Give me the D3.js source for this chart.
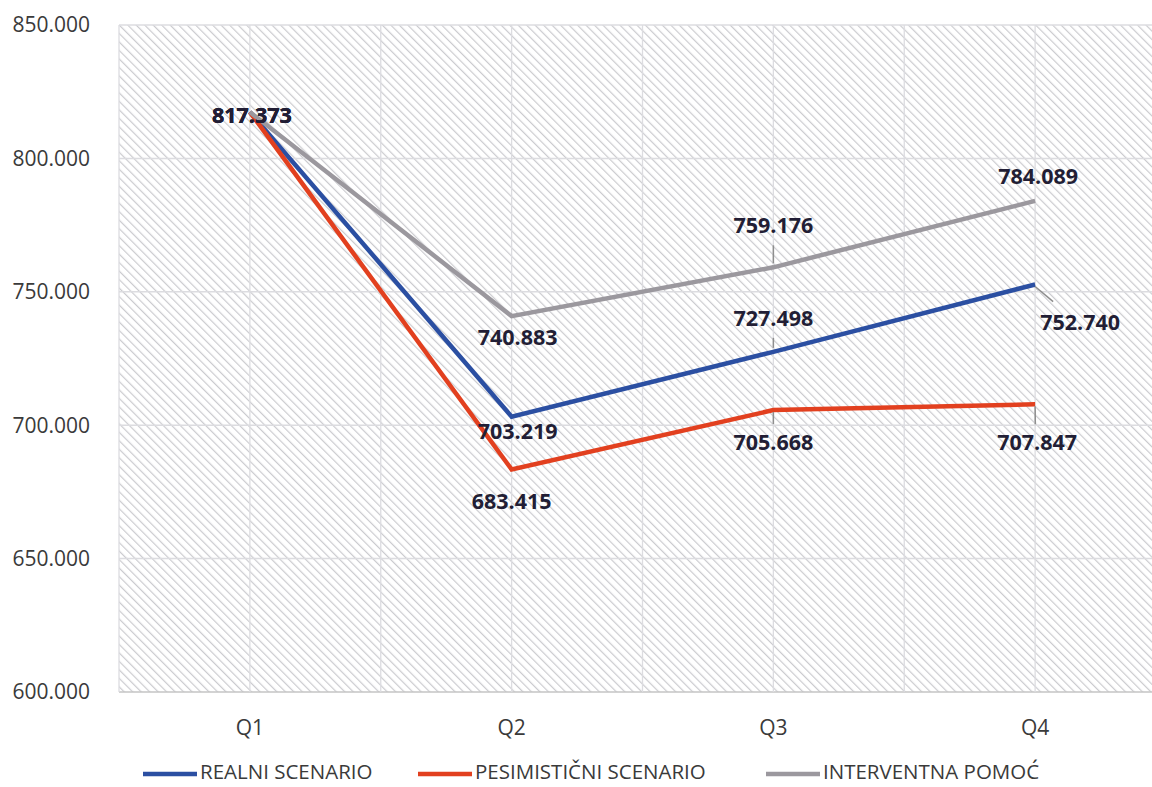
<!DOCTYPE html>
<html>
<head>
<meta charset="utf-8">
<script src="https://cdn.jsdelivr.net/npm/d3@7"></script>
<style>
  html, body { margin: 0; padding: 0; background: #fff; }
  svg { display: block; }
</style>
</head>
<body>
<svg id="chart" width="1152" height="787"></svg>
<script>
// ---- data ----
const categories = ["Q1", "Q2", "Q3", "Q4"];
const seriesNames = ["REALNI SCENARIO", "PESIMISTIČNI SCENARIO", "INTERVENTNA POMOĆ"];
const realni = [817.373, 703.219, 727.498, 752.740];
const pesimisticni = [817.373, 683.415, 705.668, 707.847];
const interventna = [817.373, 740.883, 759.176, 784.089];
const yTicks = [600, 650, 700, 750, 800, 850];

// ---- layout / style (kept separate from data) ----
const colors = ["#2b4fa2", "#e2401f", "#9b989e"];
// label offsets [dx, dy, leader] per series per category, relative to point
const labelLayout = [
  [[2, 3, false], [6, 15, false], [0, -34, true], [45, 38, true]],
  [[2, 3, false], [0, 32, false], [0, 32, true], [2, 38, true]],
  [[2, 3, false], [6, 21, false], [0, -42, true], [3, -25, false]]
];

(function () {
const svg = d3.select("#chart");
const pLeft = 119, pTop = 25, pBottom = 692, pRight = 1166;

const x = d3.scaleBand().domain(categories).range([pLeft, pRight]).padding(0);
const y = d3.scaleLinear().domain([600, 850]).range([pBottom, pTop]);
const cx = c => x(c) + x.bandwidth() / 2;

// hatch pattern
const defs = svg.append("defs");
const pat = defs.append("pattern")
  .attr("id", "hatch").attr("patternUnits", "userSpaceOnUse")
  .attr("width", 6).attr("height", 6)
  .attr("patternTransform", "rotate(-45)");
pat.append("rect").attr("width", 6).attr("height", 6).attr("fill", "#ffffff");
pat.append("line").attr("x1", 0).attr("y1", 0).attr("x2", 0).attr("y2", 6)
  .attr("stroke", "#cbcbcf").attr("stroke-width", 2.4);

svg.append("rect")
  .attr("x", pLeft).attr("y", pTop)
  .attr("width", pRight - pLeft).attr("height", pBottom - pTop)
  .attr("fill", "url(#hatch)");

// horizontal gridlines
svg.append("g").selectAll("line").data(yTicks).join("line")
  .attr("x1", pLeft).attr("x2", pRight)
  .attr("y1", d => y(d)).attr("y2", d => y(d))
  .attr("stroke", d => d === 600 ? "#c4c4c4" : "#dcdce0")
  .attr("stroke-width", 1.5);

// vertical gridlines at centers and boundaries
const vlines = [];
categories.forEach(c => { vlines.push(x(c)); vlines.push(cx(c)); });
vlines.push(pRight);
svg.append("g").selectAll("line").data(vlines).join("line")
  .attr("x1", d => d).attr("x2", d => d)
  .attr("y1", pTop).attr("y2", pBottom)
  .attr("stroke", "#dcdce0").attr("stroke-width", 1.3);

// y axis labels
const axisFont = "'Open Sans', sans-serif";
svg.append("g").selectAll("text").data(yTicks).join("text")
  .attr("x", 90).attr("y", d => y(d))
  .attr("dy", "0.35em")
  .attr("text-anchor", "end")
  .attr("font-family", axisFont).attr("font-size", 21)
  .attr("fill", "#3a3a3a")
  .text(d => d3.format(".3f")(d));

// x axis labels
svg.append("g").selectAll("text").data(categories).join("text")
  .attr("x", d => cx(d)).attr("y", 728)
  .attr("dy", "0.35em")
  .attr("text-anchor", "middle")
  .attr("font-family", axisFont).attr("font-size", 21)
  .attr("fill", "#3a3a3a")
  .text(d => d);

// lines
const allSeries = [realni, pesimisticni, interventna];
const line = d3.line().x((d, i) => cx(categories[i])).y(d => y(d));
svg.append("g").selectAll("path").data(allSeries).join("path")
  .attr("d", d => line(d))
  .attr("fill", "none")
  .attr("stroke", (d, i) => colors[i])
  .attr("stroke-width", 4.5)
  .attr("stroke-linejoin", "miter");

// data labels with leader lines
const lblG = svg.append("g");
allSeries.forEach((vals, si) => {
  vals.forEach((v, ci) => {
    const px = cx(categories[ci]), py = y(v);
    const [dx, dy, leader] = labelLayout[si][ci];
    if (leader) {
      const ly = py + dy;
      let ex, ey;
      if (Math.abs(dx) > 20) { ex = px + dx * 0.4; ey = py + dy * 0.45; }
      else { ex = px + dx * 0.1; ey = dy < 0 ? ly + 20 : ly - 18; }
      lblG.append("line")
        .attr("x1", px).attr("y1", py + (dy < 0 ? -4 : 2))
        .attr("x2", ex).attr("y2", ey)
        .attr("stroke", "#8e8e8e").attr("stroke-width", 1.5);
    }
  });
});
allSeries.forEach((vals, si) => {
  vals.forEach((v, ci) => {
    const px = cx(categories[ci]), py = y(v);
    const [dx, dy] = labelLayout[si][ci];
    lblG.append("text")
      .attr("x", px + dx).attr("y", py + dy)
      .attr("dy", "0.36em")
      .attr("text-anchor", "middle")
      .attr("font-family", axisFont).attr("font-weight", 700)
      .attr("font-size", 21.5)
      .attr("fill", "#221e35")
      .text(d3.format(".3f")(v));
  });
});

// legend
const legendX = [143, 418, 766];
const lg = svg.append("g");
seriesNames.forEach((n, i) => {
  lg.append("line")
    .attr("x1", legendX[i]).attr("x2", legendX[i] + 54)
    .attr("y1", 774).attr("y2", 774)
    .attr("stroke", colors[i]).attr("stroke-width", 4.5);
  lg.append("text")
    .attr("x", legendX[i] + 57).attr("y", 772)
    .attr("dy", "0.36em")
    .attr("font-family", axisFont).attr("font-size", 20.5)
    .attr("fill", "#3a3a3a")
    .text(n);
});
})();
</script>
</body>
</html>
